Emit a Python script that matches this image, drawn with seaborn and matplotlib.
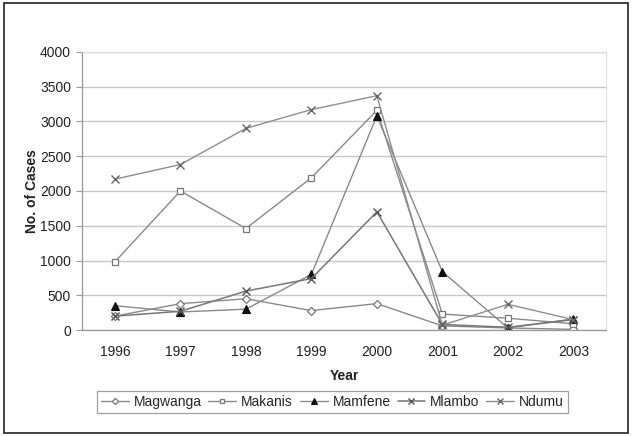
import matplotlib
matplotlib.use("Agg")
import matplotlib.pyplot as plt
import seaborn as sns
import pandas as pd
from matplotlib.ticker import FixedLocator
from matplotlib.patches import Rectangle

years = [1996, 1997, 1998, 1999, 2000, 2001, 2002, 2003]
magwanga = [200, 380, 450, 280, 380, 60, 30, 10]
makanis = [980, 2000, 1460, 2190, 3160, 230, 170, 90]
mamfene = [350, 260, 300, 800, 3080, 840, 30, 160]
mlambo = [200, 270, 560, 740, 1700, 80, 40, 150]
ndumu = [2170, 2380, 2900, 3170, 3370, 70, 370, 150]
series_names = ["Magwanga", "Makanis", "Mamfene", "Mlambo", "Ndumu"]
y_ticks = [0, 500, 1000, 1500, 2000, 2500, 3000, 3500, 4000]

rows = []
for name, vals in zip(series_names, [magwanga, makanis, mamfene, mlambo, ndumu]):
    for yr, v in zip(years, vals):
        rows.append({"Year": yr, "Cases": v, "Site": name})
df = pd.DataFrame(rows)

sns.set_style("white")
plt.rcParams["font.family"] = ["Liberation Sans", "DejaVu Sans"]

fig = plt.figure(figsize=(6.32, 4.36), dpi=100)
ax = fig.add_axes([0.130, 0.243, 0.829, 0.638])

line_col = "#8a8a8a"
styles = {
    "Magwanga": dict(marker="D", ms=4.5, mfc="white", mec="#777777", mew=0.9),
    "Makanis": dict(marker="s", ms=4.5, mfc="white", mec="#777777", mew=0.9),
    "Mamfene": dict(marker="^", ms=6, mfc="#111111", mec="#111111", mew=0.8),
    "Mlambo": dict(marker="x", ms=6, mfc="none", mec="#555555", mew=1.0),
    "Ndumu": dict(marker="x", ms=6, mfc="none", mec="#666666", mew=1.0),
}
lw = {"Magwanga": 1.0, "Makanis": 1.0, "Mamfene": 1.0, "Mlambo": 1.1, "Ndumu": 1.0}
lc = {"Magwanga": line_col, "Makanis": line_col, "Mamfene": line_col,
      "Mlambo": "#777777", "Ndumu": "#8f8f8f"}

for name in series_names:
    sub = df[df["Site"] == name]
    sns.lineplot(data=sub, x="Year", y="Cases", ax=ax, color=lc[name],
                 linewidth=lw[name], label=name, **styles[name])

ax.set_xlim(years[0] - 0.5, years[-1] + 0.5)
ax.set_ylim(y_ticks[0], y_ticks[-1])
ax.set_yticks(y_ticks)
ax.set_xticks(years)
ax.set_xticklabels([str(y) for y in years])
ax.xaxis.set_minor_locator(FixedLocator([y - 0.5 for y in years] + [years[-1] + 0.5]))
ax.tick_params(axis="x", which="major", length=0, labelsize=10, pad=11, colors="#222222")
ax.tick_params(axis="x", which="minor", length=4, width=0.8, color="#999999", direction="out")
ax.tick_params(axis="y", which="major", length=4, width=0.8, color="#999999", direction="out",
               labelsize=10, labelcolor="#222222", left=True, pad=4)
ax.yaxis.grid(True, color="#c8c8c8", linewidth=1.0)
ax.set_axisbelow(True)
for s in ["top", "right"]:
    ax.spines[s].set_color("#dddddd")
    ax.spines[s].set_linewidth(0.8)
for s in ["left", "bottom"]:
    ax.spines[s].set_color("#999999")
    ax.spines[s].set_linewidth(0.9)

ax.set_xlabel("Year", fontsize=10, fontweight="bold", labelpad=7, color="#222222")
ax.set_ylabel("No. of Cases", fontsize=10, fontweight="bold", labelpad=1, color="#222222")

ax.get_legend().remove()
handles, labels = ax.get_legend_handles_labels()
leg = fig.legend(handles, labels, loc="center", bbox_to_anchor=(0.526, 0.078), ncol=5,
                 frameon=True, fontsize=10, handlelength=2.0, handletextpad=0.35,
                 columnspacing=0.5, borderpad=0.3, fancybox=False, markerscale=0.7)
leg.get_frame().set_edgecolor("#888888")
leg.get_frame().set_linewidth(0.9)

fig.patches.append(Rectangle((0.007, 0.007), 0.986, 0.986, transform=fig.transFigure,
                             fill=False, edgecolor="#222222", linewidth=1.2))

fig.savefig("out.png", dpi=100, facecolor="white")
